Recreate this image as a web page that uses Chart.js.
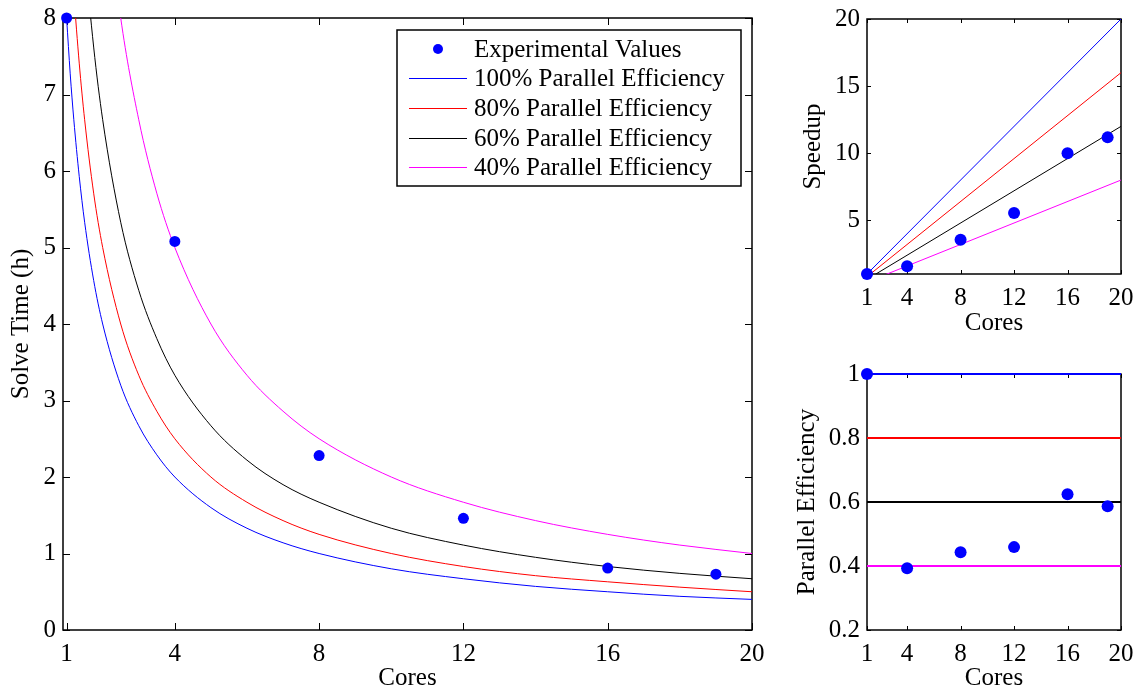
<!DOCTYPE html>
<html>
<head>
<meta charset="utf-8">
<script src="https://cdn.jsdelivr.net/npm/chart.js"></script>
<style>
  html, body { margin: 0; padding: 0; background: #fff; }
  canvas { position: absolute; }
  #timeChart { left: 0; top: 0; }
  #speedupChart { left: 770px; top: 0; }
  #effChart { left: 770px; top: 340px; }
</style>
</head>
<body>
<canvas id="timeChart" width="770" height="694"></canvas>
<canvas id="speedupChart" width="372" height="340"></canvas>
<canvas id="effChart" width="372" height="354"></canvas>
<script>
// -------------------------------
// 1) DATA
// -------------------------------

// Experimental runs
const cores = [1, 4, 8, 12, 16, 19];
const solveTime = [8, 5.08, 2.28, 1.46, 0.81, 0.73];
const speedup = [1, 1.57, 3.56, 5.54, 10.0, 11.18];
const efficiency = [1, 0.393, 0.443, 0.459, 0.624, 0.587];

// Reference curves for solve time, read at these core counts
const curveCores = [1, 1.1, 1.2, 1.35, 1.5, 1.75, 2, 2.5, 3, 3.5, 4, 5, 6, 7, 8, 10, 12, 14, 16, 18, 20];
const time100 = [8, 7.27, 6.67, 5.93, 5.33, 4.57, 4, 3.2, 2.67, 2.29, 2, 1.6, 1.33, 1.14, 1, 0.8, 0.67, 0.57, 0.5, 0.44, 0.4];
const time80 = [10, 9.09, 8.33, 7.41, 6.67, 5.71, 5, 4, 3.33, 2.86, 2.5, 2, 1.67, 1.43, 1.25, 1, 0.83, 0.71, 0.63, 0.56, 0.5];
const time60 = [13.33, 12.12, 11.11, 9.88, 8.89, 7.62, 6.67, 5.33, 4.44, 3.81, 3.33, 2.67, 2.22, 1.9, 1.67, 1.33, 1.11, 0.95, 0.83, 0.74, 0.67];
const time40 = [20, 18.18, 16.67, 14.81, 13.33, 11.43, 10, 8, 6.67, 5.71, 5, 4, 3.33, 2.86, 2.5, 2, 1.67, 1.43, 1.25, 1.11, 1];

// Reference lines for speedup / efficiency (end points)
const lineCores = [1, 20];
const speedup100 = [1, 20];
const speedup80 = [0.8, 16];
const speedup60 = [0.6, 12];
const speedup40 = [0.4, 8];
const eff100 = [1, 1];
const eff80 = [0.8, 0.8];
const eff60 = [0.6, 0.6];
const eff40 = [0.4, 0.4];

// Labels and ticks
const seriesLabels = ["Experimental Values", "100% Parallel Efficiency", "80% Parallel Efficiency",
  "60% Parallel Efficiency", "40% Parallel Efficiency"];
const coreTicks = [1, 4, 8, 12, 16, 20];
const timeTicks = [0, 1, 2, 3, 4, 5, 6, 7, 8];
const speedupTicks = [5, 10, 15, 20];
const effTicks = [0.2, 0.4, 0.6, 0.8, 1];


// -------------------------------
// 2) HELPERS
// -------------------------------

const COLORS = ["#0000ff", "#ff0000", "#000000", "#ff00ff"];
const FONT = "'Liberation Serif', 'Times New Roman', serif";

Chart.defaults.font.family = FONT;
Chart.defaults.font.size = 25;
Chart.defaults.color = "#000";

function toPoints(xs, ys) {
  return xs.map((x, i) => ({ x: x, y: ys[i] }));
}

function pointSet(ys, radius) {
  return {
    label: seriesLabels[0],
    data: toPoints(cores, ys),
    showLine: false,
    pointRadius: radius,
    pointBackgroundColor: "#0000ff",
    pointBorderWidth: 0,
    clip: false,
    order: 0
  };
}

function lineSet(xs, ys, idx, width, clip) {
  const ds = {
    label: seriesLabels[idx + 1],
    data: toPoints(xs, ys),
    showLine: true,
    borderColor: COLORS[idx],
    borderWidth: width,
    pointRadius: 0,
    cubicInterpolationMode: "monotone",
    order: 1
  };
  if (clip === false) ds.clip = false;
  return ds;
}

// keep tick labels from pushing the plot box around
function noPadding(s) {
  s.paddingTop = 0;
  s.paddingBottom = 0;
  s.paddingLeft = 0;
  s.paddingRight = 0;
}

// MATLAB style box with inward ticks, drawn under the data
function boxPlugin(tickLen) {
  return {
    id: "box",
    beforeDatasetsDraw(chart) {
      const { ctx, chartArea: a, scales } = chart;
      ctx.save();
      ctx.strokeStyle = "#000";
      ctx.lineWidth = 1.5;
      ctx.strokeRect(a.left, a.top, a.right - a.left, a.bottom - a.top);
      ctx.lineWidth = 1;
      ctx.beginPath();
      scales.x.ticks.forEach(t => {
        const px = Math.round(scales.x.getPixelForValue(t.value)) + 0.5;
        ctx.moveTo(px, a.bottom); ctx.lineTo(px, a.bottom - tickLen);
        ctx.moveTo(px, a.top); ctx.lineTo(px, a.top + tickLen);
      });
      scales.y.ticks.forEach(t => {
        const py = Math.round(scales.y.getPixelForValue(t.value)) + 0.5;
        ctx.moveTo(a.left, py); ctx.lineTo(a.left + tickLen, py);
        ctx.moveTo(a.right, py); ctx.lineTo(a.right - tickLen, py);
      });
      ctx.stroke();
      ctx.restore();
    }
  };
}

// Legend box inside the solve time plot
const legendPlugin = {
  id: "insideLegend",
  afterDatasetsDraw(chart) {
    const ctx = chart.ctx;
    const box = { x: 397, y: 30, w: 344, h: 156 };
    const rowY = [49, 78, 108, 138, 167];
    ctx.save();
    ctx.fillStyle = "#fff";
    ctx.fillRect(box.x, box.y, box.w, box.h);
    ctx.strokeStyle = "#000";
    ctx.lineWidth = 1.5;
    ctx.strokeRect(box.x, box.y, box.w, box.h);
    ctx.font = "25px " + FONT;
    ctx.textBaseline = "middle";
    ctx.textAlign = "left";
    chart.data.datasets.forEach((ds, i) => {
      const y = rowY[i];
      if (ds.showLine) {
        ctx.strokeStyle = ds.borderColor;
        ctx.lineWidth = 1;
        ctx.beginPath();
        ctx.moveTo(409, y + 0.5);
        ctx.lineTo(467, y + 0.5);
        ctx.stroke();
      } else {
        ctx.fillStyle = ds.pointBackgroundColor;
        ctx.beginPath();
        ctx.arc(438, y, 5, 0, Math.PI * 2);
        ctx.fill();
      }
      ctx.fillStyle = "#000";
      ctx.fillText(ds.label, 474, y + 1);
    });
    ctx.restore();
  }
};

function makeOptions(o) {
  return {
    responsive: false,
    animation: false,
    events: [],
    layout: { padding: o.padding },
    plugins: { legend: { display: false }, tooltip: { enabled: false } },
    scales: {
      x: {
        type: "linear",
        min: o.xMin,
        max: 20,
        grid: { display: false, drawTicks: false },
        border: { display: false },
        ticks: { padding: 9, maxRotation: 0, autoSkip: false },
        afterBuildTicks: s => { s.ticks = coreTicks.map(v => ({ value: v })); },
        afterFit: s => { s.height = o.xHeight; noPadding(s); },
        title: { display: true, text: "Cores", padding: { top: 0, bottom: o.xTitlePad } }
      },
      y: {
        type: "linear",
        min: o.yMin,
        max: o.yMax,
        grid: { display: false, drawTicks: false },
        border: { display: false },
        ticks: { padding: 7, autoSkip: false, callback: v => String(v) },
        afterBuildTicks: s => { s.ticks = o.yTicks.map(v => ({ value: v })); },
        afterFit: s => { s.width = o.yWidth; noPadding(s); },
        title: { display: true, text: o.yTitle, padding: { top: o.yTitlePad, bottom: 0 } }
      }
    }
  };
}


// -------------------------------
// 3) CHARTS
// -------------------------------

function renderTimeChart() {
  new Chart(document.getElementById("timeChart"), {
    type: "scatter",
    data: {
      datasets: [
        pointSet(solveTime, 5.5),
        lineSet(curveCores, time100, 0, 1),
        lineSet(curveCores, time80, 1, 1),
        lineSet(curveCores, time60, 2, 1),
        lineSet(curveCores, time40, 3, 1)
      ]
    },
    options: makeOptions({
      padding: { left: 0, top: 18, right: 18, bottom: 0 },
      xMin: 0.9, xHeight: 64, xTitlePad: 1,
      yMin: 0, yMax: 8, yTicks: timeTicks, yWidth: 63,
      yTitle: "Solve Time (h)", yTitlePad: 6
    }),
    plugins: [boxPlugin(7), legendPlugin]
  });
}

function renderSpeedupChart() {
  new Chart(document.getElementById("speedupChart"), {
    type: "scatter",
    data: {
      datasets: [
        pointSet(speedup, 6),
        lineSet(lineCores, speedup100, 0, 1),
        lineSet(lineCores, speedup80, 1, 1),
        lineSet(lineCores, speedup60, 2, 1),
        lineSet(lineCores, speedup40, 3, 1)
      ]
    },
    options: makeOptions({
      padding: { left: 0, top: 19, right: 21, bottom: 0 },
      xMin: 1, xHeight: 66, xTitlePad: 2,
      yMin: 1, yMax: 20, yTicks: speedupTicks, yWidth: 97,
      yTitle: "Speedup", yTitlePad: 28
    }),
    plugins: [boxPlugin(4)]
  });
}

function renderEffChart() {
  new Chart(document.getElementById("effChart"), {
    type: "scatter",
    data: {
      datasets: [
        pointSet(efficiency, 6),
        lineSet(lineCores, eff100, 0, 2, false),
        lineSet(lineCores, eff80, 1, 2, false),
        lineSet(lineCores, eff60, 2, 2, false),
        lineSet(lineCores, eff40, 3, 2, false)
      ]
    },
    options: makeOptions({
      padding: { left: 0, top: 34, right: 21, bottom: 0 },
      xMin: 1, xHeight: 64, xTitlePad: 1,
      yMin: 0.2, yMax: 1, yTicks: effTicks, yWidth: 97,
      yTitle: "Parallel Efficiency", yTitlePad: 22
    }),
    plugins: [boxPlugin(4)]
  });
}

renderTimeChart();
renderSpeedupChart();
renderEffChart();
</script>
</body>
</html>
